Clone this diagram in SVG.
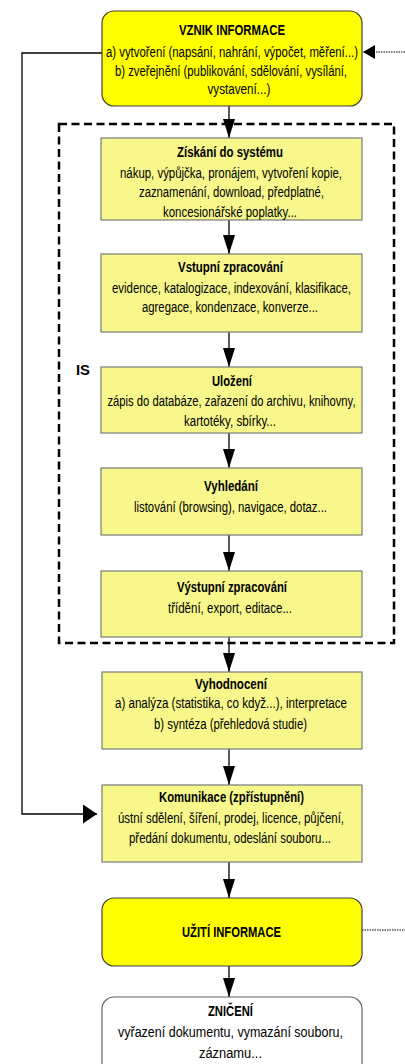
<svg xmlns="http://www.w3.org/2000/svg" width="405" height="1064" viewBox="0 0 405 1064">
<style>
.t{font-family:"Liberation Sans",Arial,sans-serif;font-size:14px;text-anchor:middle;fill:#000}
.b{font-weight:bold}
.main{fill:#ffff00;stroke:#404040;stroke-width:1.2}
.box{fill:#f7f78c;stroke:#7a7a7a;stroke-width:1.2}
.end{fill:#fff;stroke:#606060;stroke-width:1.2}
.c{fill:none;stroke:#000;stroke-width:1.3}
.dot{fill:none;stroke:#000;stroke-width:1;stroke-dasharray:1.5 1}
</style>
<defs>
<marker id="av" markerUnits="userSpaceOnUse" markerWidth="19" markerHeight="12" refX="19" refY="6" orient="auto" viewBox="0 0 19 12"><path d="M0,0 L19,6 L0,12 z" fill="#000"/></marker>
<marker id="ah" markerUnits="userSpaceOnUse" markerWidth="14" markerHeight="19" refX="14" refY="9.5" orient="auto" viewBox="0 0 14 19"><path d="M0,0 L14,9.5 L0,19 z" fill="#000"/></marker>
<marker id="ad" markerUnits="userSpaceOnUse" markerWidth="12" markerHeight="14" refX="12" refY="7" orient="auto" viewBox="0 0 12 14"><path d="M0,0 L12,7 L0,14 z" fill="#000"/></marker>
</defs>

<g id="is-boundary">
<rect x="59" y="124" width="335" height="519" fill="none" stroke="#000" stroke-width="2.5" stroke-dasharray="8 4.5"/>
<text class="t b" x="83" y="375" textLength="14" lengthAdjust="spacingAndGlyphs">IS</text>
</g>

<g id="connectors">
<line class="c" x1="229" y1="106" x2="229" y2="138" marker-end="url(#av)"/>
<line class="c" x1="229" y1="220" x2="229" y2="254" marker-end="url(#av)"/>
<line class="c" x1="229" y1="332" x2="229" y2="367" marker-end="url(#av)"/>
<line class="c" x1="229" y1="433" x2="229" y2="468" marker-end="url(#av)"/>
<line class="c" x1="229" y1="535" x2="229" y2="571" marker-end="url(#av)"/>
<line class="c" x1="229" y1="637" x2="229" y2="672" marker-end="url(#av)"/>
<line class="c" x1="229" y1="749" x2="229" y2="785" marker-end="url(#av)"/>
<line class="c" x1="229" y1="862" x2="229" y2="898" marker-end="url(#av)"/>
<line class="c" x1="229" y1="966" x2="229" y2="997" marker-end="url(#av)"/>
<polyline class="c" points="102,53 22,53 22,814 97,814" marker-end="url(#ah)"/>
<line class="dot" x1="405" y1="52" x2="363" y2="52" marker-end="url(#ad)"/>
<line class="dot" x1="362" y1="930" x2="405" y2="930"/>
</g>

<g id="vznik">
<rect class="main" x="102" y="11" width="260" height="95" rx="12"/>
<text class="t b" x="232" y="35" textLength="106" lengthAdjust="spacingAndGlyphs">VZNIK INFORMACE</text>
<text class="t" x="232" y="57" textLength="252" lengthAdjust="spacingAndGlyphs">a) vytvoření (napsání, nahrání, výpočet, měření...)</text>
<text class="t" x="231" y="76" textLength="232" lengthAdjust="spacingAndGlyphs">b)  zveřejnění (publikování, sdělování, vysílání,</text>
<text class="t" x="239" y="94" textLength="63" lengthAdjust="spacingAndGlyphs">vystavení...)</text>
</g>

<g id="ziskani">
<rect class="box" x="101" y="138" width="261" height="82"/>
<text class="t b" x="230" y="157" textLength="106" lengthAdjust="spacingAndGlyphs">Získání do systému</text>
<text class="t" x="231" y="178" textLength="222" lengthAdjust="spacingAndGlyphs">nákup, výpůjčka, pronájem, vytvoření kopie,</text>
<text class="t" x="231.5" y="197" textLength="185" lengthAdjust="spacingAndGlyphs">zaznamenání, download, předplatné,</text>
<text class="t" x="230" y="217" textLength="134" lengthAdjust="spacingAndGlyphs">koncesionářské poplatky...</text>
</g>

<g id="vstupni">
<rect class="box" x="101" y="254" width="261" height="78"/>
<text class="t b" x="230.5" y="272" textLength="105" lengthAdjust="spacingAndGlyphs">Vstupní zpracování</text>
<text class="t" x="231.5" y="293" textLength="239" lengthAdjust="spacingAndGlyphs">evidence, katalogizace, indexování, klasifikace,</text>
<text class="t" x="230" y="312" textLength="176" lengthAdjust="spacingAndGlyphs">agregace, kondenzace, konverze...</text>
</g>

<g id="ulozeni">
<rect class="box" x="101" y="367" width="261" height="66"/>
<text class="t b" x="232" y="386" textLength="40" lengthAdjust="spacingAndGlyphs">Uložení</text>
<text class="t" x="231.5" y="406" textLength="248" lengthAdjust="spacingAndGlyphs">zápis do databáze, zařazení do archivu, knihovny,</text>
<text class="t" x="230" y="426" textLength="92" lengthAdjust="spacingAndGlyphs">kartotéky, sbírky...</text>
</g>

<g id="vyhledani">
<rect class="box" x="101" y="468" width="261" height="67"/>
<text class="t b" x="231" y="491" textLength="54" lengthAdjust="spacingAndGlyphs">Vyhledání</text>
<text class="t" x="230.5" y="512" textLength="193" lengthAdjust="spacingAndGlyphs">listování (browsing), navigace, dotaz...</text>
</g>

<g id="vystupni">
<rect class="box" x="101" y="571" width="261" height="66"/>
<text class="t b" x="232" y="592" textLength="110" lengthAdjust="spacingAndGlyphs">Výstupní zpracování</text>
<text class="t" x="230" y="613" textLength="124" lengthAdjust="spacingAndGlyphs">třídění, export, editace...</text>
</g>

<g id="vyhodnoceni">
<rect class="box" x="102" y="672" width="260" height="77"/>
<text class="t b" x="231" y="689" textLength="72" lengthAdjust="spacingAndGlyphs">Vyhodnocení</text>
<text class="t" x="231" y="708" textLength="232" lengthAdjust="spacingAndGlyphs">a)  analýza (statistika, co když...), interpretace</text>
<text class="t" x="230.5" y="729" textLength="153" lengthAdjust="spacingAndGlyphs">b)  syntéza (přehledová studie)</text>
</g>

<g id="komunikace">
<rect class="box" x="102" y="785" width="260" height="77"/>
<text class="t b" x="231.5" y="802" textLength="145" lengthAdjust="spacingAndGlyphs">Komunikace (zpřístupnění)</text>
<text class="t" x="231" y="823" textLength="226" lengthAdjust="spacingAndGlyphs">ústní sdělení, šíření, prodej, licence, půjčení,</text>
<text class="t" x="230" y="843" textLength="202" lengthAdjust="spacingAndGlyphs">předání dokumentu, odeslání souboru...</text>
</g>

<g id="uziti">
<rect class="main" x="102" y="898" width="260" height="68" rx="12"/>
<text class="t b" x="231.5" y="937" textLength="99" lengthAdjust="spacingAndGlyphs">UŽITÍ INFORMACE</text>
</g>

<g id="zniceni">
<rect class="end" x="102" y="997" width="260" height="80" rx="12"/>
<text class="t b" x="230.5" y="1016" textLength="45" lengthAdjust="spacingAndGlyphs">ZNIČENÍ</text>
<text class="t" x="230.5" y="1037" textLength="225" lengthAdjust="spacingAndGlyphs">vyřazení dokumentu, vymazání souboru,</text>
<text class="t" x="230.5" y="1058" textLength="63" lengthAdjust="spacingAndGlyphs">záznamu...</text>
</g>
</svg>
